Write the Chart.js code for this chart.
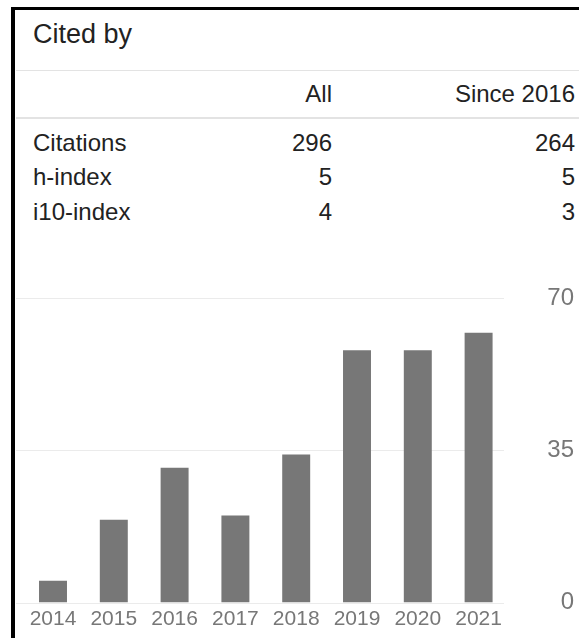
<!DOCTYPE html>
<html>
<head>
<meta charset="utf-8">
<script src="https://cdn.jsdelivr.net/npm/chart.js@4.4.0/dist/chart.umd.min.js"></script>
<style>
  html, body { margin: 0; padding: 0; background: #fff; overflow: hidden; }
  body { width: 579px; height: 638px; position: relative; font-family: "Liberation Sans", Arial, sans-serif; color: #222; }
  #frame { position: absolute; left: 11px; top: 7px; width: 700px; height: 700px; border-left: 4px solid #000; border-top: 3px solid #000; }
  .t { position: absolute; line-height: 1; font-size: 24px; white-space: nowrap; }
  .r { text-align: right; }
  .rule { position: absolute; left: 16px; right: 0; background: #e3e3e3; }
  #chartbox { position: absolute; left: 0; top: 250px; width: 579px; height: 388px; }
</style>
</head>
<body>
<div id="frame"></div>
<div class="t" style="left:33px; top:21px; font-size:27px;">Cited by</div>
<div class="rule" style="top:70px; height:1px;"></div>
<div class="t r" style="right:247px; top:82px;">All</div>
<div class="t r" style="right:4px; top:82px;">Since 2016</div>
<div class="rule" style="top:117px; height:2px;"></div>
<div id="stats"></div>
<div id="chartbox"><canvas id="citechart" width="579" height="388"></canvas></div>

<script>
// values
var statNames = ["Citations", "h-index", "i10-index"];
var statAll = [296, 5, 4];
var statSince = [264, 5, 3];

var years = ["2014", "2015", "2016", "2017", "2018", "2019", "2020", "2021"];
var citations = [5, 19, 31, 20, 34, 58, 58, 62];
var yTicks = [0, 35, 70];

// stats table
var rowTops = [131, 165, 200];
var stats = document.getElementById('stats');
for (var i = 0; i < statNames.length; i++) {
  stats.innerHTML +=
    '<div class="t" style="left:33px; top:' + rowTops[i] + 'px;">' + statNames[i] + '</div>' +
    '<div class="t r" style="right:247px; top:' + rowTops[i] + 'px;">' + statAll[i] + '</div>' +
    '<div class="t r" style="right:4px; top:' + rowTops[i] + 'px;">' + statSince[i] + '</div>';
}

// horizontal grid lines a bit wider than the plot, like the original
var gridLines = {
  id: 'gridLines',
  beforeDatasetsDraw: function(chart) {
    var ctx = chart.ctx, y = chart.scales.y;
    ctx.save();
    ctx.strokeStyle = '#ebebeb';
    ctx.lineWidth = 1;
    y.ticks.forEach(function(t) {
      var py = Math.round(y.getPixelForValue(t.value)) + 0.5;
      ctx.beginPath();
      ctx.moveTo(16, py);
      ctx.lineTo(504, py);
      ctx.stroke();
    });
    ctx.restore();
  }
};

var ctx = document.getElementById('citechart').getContext('2d');
var citechart = new Chart(ctx, {
  type: 'bar',
  data: {
    labels: years,
    datasets: [{
      data: citations,
      backgroundColor: '#777777',
      borderWidth: 0,
      barPercentage: 0.46,
      categoryPercentage: 1
    }]
  },
  options: {
    responsive: false,
    animation: false,
    layout: { padding: { left: 22.6, right: 5, top: 48, bottom: 0 } },
    plugins: { legend: { display: false }, tooltip: { enabled: false } },
    scales: {
      x: {
        grid: { display: false },
        border: { display: false },
        ticks: {
          color: '#777',
          padding: -4,
          maxRotation: 0,
          font: { family: '"Liberation Sans", Arial, sans-serif', size: 21 }
        },
        afterFit: function(scale) { scale.height = 35.5; }
      },
      y: {
        position: 'right',
        min: 0,
        max: 70,
        grid: { display: false },
        border: { display: false },
        afterBuildTicks: function(scale) {
          scale.ticks = yTicks.map(function(v) { return { value: v }; });
        },
        ticks: {
          color: '#777',
          padding: 0,
          crossAlign: 'far',
          font: { family: '"Liberation Sans", Arial, sans-serif', size: 24 }
        },
        afterFit: function(scale) { scale.width = 65; }
      }
    }
  },
  plugins: [gridLines]
});
</script>
</body>
</html>
